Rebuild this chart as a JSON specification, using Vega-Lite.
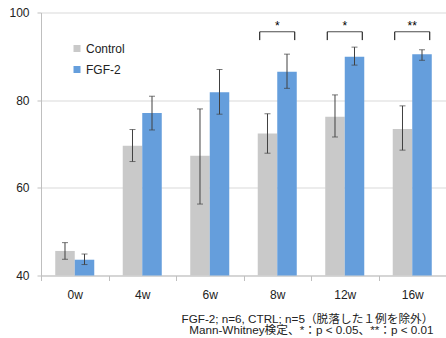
{
  "$schema": "https://vega.github.io/schema/vega-lite/v6.json",
  "autosize": {"type": "none"},
  "width": 405,
  "height": 263,
  "padding": {"left": 41, "top": 12.5, "right": 0, "bottom": 62.5},
  "config": {"font": "Liberation Sans, Noto Sans CJK JP", "view": {"stroke": null}},
  "title": {
    "text": ["FGF-2; n=6, CTRL; n=5（脱落した１例を除外）", "Mann-Whitney検定、*：p < 0.05、**：p < 0.01"],
    "orient": "bottom", "anchor": "end", "align": "right", "fontSize": 11.7, "fontWeight": "normal",
    "color": "#222222", "lineHeight": 11.5, "offset": 13, "dx": -13, "font": "Liberation Sans, Noto Sans CJK JP"
  },
  "datasets": {
    "bars": [
      {"week": "0w", "group": "Control", "value": 45.6, "lo": 43.7, "hi": 47.5},
      {"week": "0w", "group": "FGF-2", "value": 43.6, "lo": 42.5, "hi": 44.9},
      {"week": "4w", "group": "Control", "value": 69.6, "lo": 66.0, "hi": 73.3},
      {"week": "4w", "group": "FGF-2", "value": 77.1, "lo": 73.2, "hi": 80.9},
      {"week": "6w", "group": "Control", "value": 67.3, "lo": 56.3, "hi": 78.0},
      {"week": "6w", "group": "FGF-2", "value": 81.8, "lo": 76.8, "hi": 87.0},
      {"week": "8w", "group": "Control", "value": 72.4, "lo": 67.9, "hi": 76.9},
      {"week": "8w", "group": "FGF-2", "value": 86.5, "lo": 82.7, "hi": 90.5},
      {"week": "12w", "group": "Control", "value": 76.2, "lo": 71.6, "hi": 81.2},
      {"week": "12w", "group": "FGF-2", "value": 89.9, "lo": 88.0, "hi": 92.1},
      {"week": "16w", "group": "Control", "value": 73.4, "lo": 68.6, "hi": 78.7},
      {"week": "16w", "group": "FGF-2", "value": 90.5, "lo": 89.1, "hi": 91.5}
    ],
    "sig": [
      {"week": "8w", "label": "*", "top": 95.6, "bot": 93.7, "star": 95.9},
      {"week": "12w", "label": "*", "top": 95.6, "bot": 93.7, "star": 95.9},
      {"week": "16w", "label": "**", "top": 95.6, "bot": 93.7, "star": 95.9}
    ]
  },
  "layer": [
    {
      "data": {"name": "bars"},
      "mark": {"type": "bar"},
      "encoding": {
        "x": {
          "field": "week", "type": "nominal", "title": null,
          "scale": {"domain": ["0w", "4w", "6w", "8w", "12w", "16w"], "paddingInner": 0, "paddingOuter": 0},
          "axis": {"tickBand": "extent", "domainColor": "#bfbfbf", "tickColor": "#bfbfbf", "tickSize": 5,
                   "labelFontSize": 12, "labelColor": "#222222", "labelPadding": 9, "labelAngle": 0, "grid": false}
        },
        "xOffset": {"field": "group", "type": "nominal", "scale": {"paddingInner": 0, "paddingOuter": 0.73}},
        "y": {
          "field": "value", "type": "quantitative", "title": null,
          "scale": {"domain": [40, 100], "zero": false, "nice": false},
          "axis": {"values": [40, 60, 80, 100], "grid": true, "gridColor": "#d9d9d9", "domainColor": "#bfbfbf",
                   "tickColor": "#bfbfbf", "tickSize": 4, "labelFontSize": 12, "labelColor": "#222222", "labelPadding": 8}
        },
        "y2": {"datum": 40},
        "color": {
          "field": "group", "type": "nominal",
          "scale": {"domain": ["Control", "FGF-2"], "range": ["#C9C9C9", "#659EDC"]},
          "legend": {"title": null, "orient": "none", "legendX": 30, "legendY": 30, "symbolType": "square",
                     "symbolSize": 49, "symbolStrokeWidth": 0, "labelFontSize": 12, "labelColor": "#222222",
                     "rowPadding": 9, "labelOffset": 3}
        }
      }
    },
    {
      "data": {"name": "bars"},
      "mark": {"type": "rule", "color": "#404040", "strokeWidth": 1},
      "encoding": {
        "x": {"field": "week", "type": "nominal"},
        "xOffset": {"field": "group", "type": "nominal"},
        "y": {"field": "lo", "type": "quantitative"},
        "y2": {"field": "hi"}
      }
    },
    {
      "data": {"name": "bars"},
      "mark": {"type": "tick", "color": "#404040", "size": 6, "thickness": 1},
      "encoding": {
        "x": {"field": "week", "type": "nominal"},
        "xOffset": {"field": "group", "type": "nominal"},
        "y": {"field": "lo", "type": "quantitative"}
      }
    },
    {
      "data": {"name": "bars"},
      "mark": {"type": "tick", "color": "#404040", "size": 6, "thickness": 1},
      "encoding": {
        "x": {"field": "week", "type": "nominal"},
        "xOffset": {"field": "group", "type": "nominal"},
        "y": {"field": "hi", "type": "quantitative"}
      }
    },
    {
      "data": {"name": "sig"},
      "mark": {"type": "tick", "color": "#000000", "size": 35, "thickness": 1},
      "encoding": {
        "x": {"field": "week", "type": "nominal"},
        "y": {"field": "top", "type": "quantitative"}
      }
    },
    {
      "data": {"name": "sig"},
      "mark": {"type": "rule", "color": "#000000", "strokeWidth": 1},
      "encoding": {
        "x": {"field": "week", "type": "nominal", "bandPosition": 0.2407},
        "y": {"field": "top", "type": "quantitative"},
        "y2": {"field": "bot"}
      }
    },
    {
      "data": {"name": "sig"},
      "mark": {"type": "rule", "color": "#000000", "strokeWidth": 1},
      "encoding": {
        "x": {"field": "week", "type": "nominal", "bandPosition": 0.7593},
        "y": {"field": "top", "type": "quantitative"},
        "y2": {"field": "bot"}
      }
    },
    {
      "data": {"name": "sig"},
      "mark": {"type": "text", "color": "#000000", "fontSize": 12, "baseline": "alphabetic"},
      "encoding": {
        "x": {"field": "week", "type": "nominal"},
        "y": {"field": "star", "type": "quantitative"},
        "text": {"field": "label"}
      }
    }
  ]
}
